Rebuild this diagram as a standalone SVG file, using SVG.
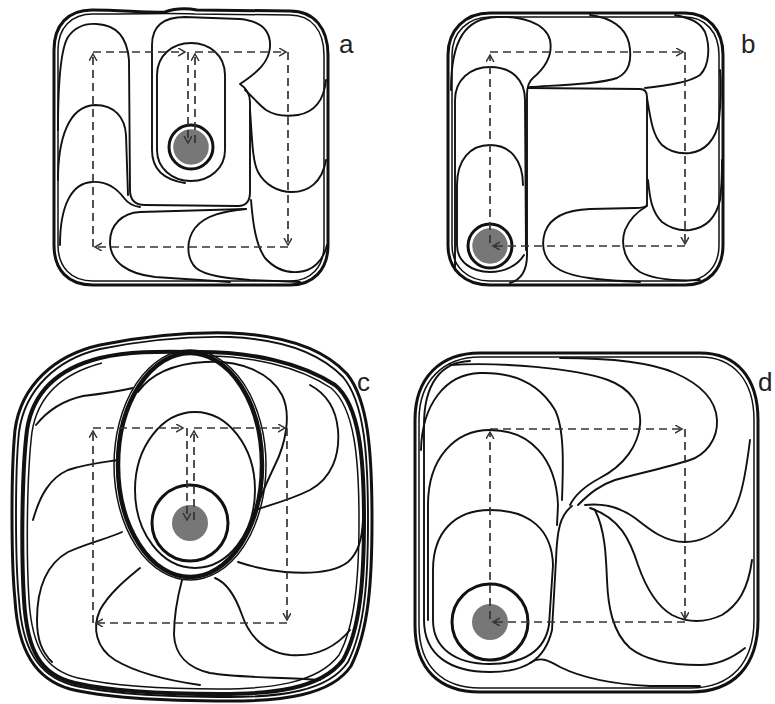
<svg xmlns="http://www.w3.org/2000/svg" width="775" height="704" viewBox="0 0 775 704">
<style>
.c{fill:none;stroke:#111;stroke-width:1.9;stroke-linecap:round;stroke-linejoin:round}
.b{fill:none;stroke:#111;stroke-width:3;stroke-linejoin:round}
.t{fill:none;stroke:#111;stroke-width:1.5}
.d{fill:none;stroke:#333;stroke-width:1.7;stroke-dasharray:8 5}
.src{fill:#777;stroke:#fff;stroke-width:1.5}
.ring{fill:#fff;stroke:#111;stroke-width:3}
.lbl{font-family:"Liberation Sans",Arial,sans-serif;font-size:26px;fill:#222}
</style>
<defs>
<marker id="ah" markerUnits="userSpaceOnUse" markerWidth="10" markerHeight="10" refX="7" refY="4" orient="auto">
<path d="M0,0 L7,4 L0,8" fill="none" stroke="#333" stroke-width="1.5"/>
</marker>
</defs>
<rect width="775" height="704" fill="#fff"/>

<!-- Panel a -->
<g id="panel-a">
<path class="b" d="M92,10 C120,10 150,13 165,12 C176,8 186,8 197,10 L290,11 C314,11 328,28 328,55 L328,245 C328,270 313,285 290,285 L93,285 C68,285 54,270 54,245 L54,50 C54,25 68,10 92,10 Z"/>
<path class="t" d="M93,14 C150,14 170,13 195,14 L290,15 C311,15 324,30 324,55 L324,245 C324,267 311,281 290,281 L93,281 C71,281 58,267 58,245 L58,50 C58,28 71,14 93,14 Z"/>
<path class="c" d="M185,183 C165,180 152,170 152,150 L152,45 C152,25 165,17 185,17 L240,19 C260,21 271,30 270,47 C269,62 258,72 240,84 C246,88 250,94 250,102 L250,192 C250,201 246,206 238,206 L145,205 C135,205 130,200 130,190 L129,60 C127,35 115,25 97,24 C85,23 75,27 68,37 C60,50 58,90 58,130"/>
<path class="c" d="M157,150 L157,75 C157,55 173,43 191,43 C209,43 225,55 225,75 L225,150 C225,168 210,181 191,181 C172,181 157,168 157,150 Z"/>
<path class="c" d="M58,180 C58,140 68,106 95,105 C115,105 125,118 126,135 L128,195"/>
<path class="c" d="M60,245 C60,205 72,183 92,182 C108,181 118,190 124,198 C127,202 132,206 140,207"/>
<path class="c" d="M246,209 L140,212 C122,213 110,225 110,242 C110,262 128,274 155,277 L230,282"/>
<path class="c" d="M246,209 C225,211 205,215 195,228 C186,240 186,258 196,268 C206,276 225,278 250,280 L300,282"/>
<path class="c" d="M245,90 C252,96 258,104 266,110 C274,115 285,117 298,115 C315,112 324,100 326,80"/>
<path class="c" d="M250,110 C252,135 252,160 258,172 C265,185 278,192 292,192 C308,192 322,183 326,160"/>
<path class="c" d="M251,200 C253,225 256,245 265,258 C274,268 285,273 298,272 C312,271 323,262 327,245"/>
<circle class="ring" cx="191" cy="147" r="22"/>
<circle class="src" cx="191" cy="147" r="18.5"/>
<g id="path-a">
<line class="d" x1="195" y1="143" x2="195" y2="54" marker-end="url(#ah)"/>
<line class="d" x1="195" y1="52" x2="286" y2="52" marker-end="url(#ah)"/>
<line class="d" x1="288" y1="52" x2="288" y2="245" marker-end="url(#ah)"/>
<line class="d" x1="288" y1="247" x2="95" y2="247" marker-end="url(#ah)"/>
<line class="d" x1="93" y1="247" x2="93" y2="54" marker-end="url(#ah)"/>
<line class="d" x1="93" y1="52" x2="185" y2="52" marker-end="url(#ah)"/>
<line class="d" x1="188" y1="52" x2="188" y2="143" marker-end="url(#ah)"/>
</g>
<text class="lbl" x="339" y="53">a</text>
</g>

<!-- Panel b -->
<g id="panel-b">
<path class="b" d="M490,13 L685,13 C708,13 723,30 723,55 L723,245 C723,270 708,285 685,285 L490,285 C465,285 448,270 448,245 L448,55 C448,30 465,13 490,13 Z"/>
<path class="t" d="M490,17 L685,17 C705,17 719,32 719,55 L719,245 C719,267 705,281 685,281 L490,281 C468,281 452,267 452,245 L452,55 C452,32 468,17 490,17 Z"/>
<path class="c" d="M523,185 C523,160 510,145 490,145 C470,145 457,160 457,185 L457,245 C457,262 472,272 490,272 C505,272 518,265 524,255"/>
<path class="c" d="M455,270 L455,100 C455,80 470,67 490,67 C512,67 525,80 525,100 L526,250"/>
<path class="c" d="M451,90 C451,40 465,18 497,17 C520,16 545,22 550,40 C553,55 545,68 533,78 C528,82 527,88 527,95 L527,255 C527,272 520,280 510,283"/>
<path class="c" d="M528,88 L640,89 C645,89 647,92 647,97 L647,205 C645,208 640,208 635,208 L590,209 C565,210 550,218 545,232 C540,248 545,262 560,270 C575,278 600,280 640,282"/>
<path class="c" d="M530,87 C560,85 600,84 617,78 C630,72 632,58 629,43 C625,27 612,18 590,15"/>
<path class="c" d="M645,88 C670,85 690,82 700,75 C710,65 710,45 705,32 C700,22 690,18 675,15"/>
<path class="c" d="M647,98 C650,115 652,135 662,145 C670,152 680,154 690,153 C705,151 716,140 719,120 C721,100 721,80 720,70"/>
<path class="c" d="M648,180 C650,200 652,212 662,222 C670,228 680,231 690,230 C705,228 716,218 720,200 C722,185 722,170 722,160"/>
<path class="c" d="M647,206 C640,210 630,218 625,230 C620,245 625,262 640,272 C655,280 680,281 700,280"/>
<circle class="ring" cx="490" cy="246" r="22"/>
<circle class="src" cx="490" cy="246" r="18.5"/>
<g id="path-b">
<line class="d" x1="490" y1="243" x2="490" y2="55" marker-end="url(#ah)"/>
<line class="d" x1="490" y1="52" x2="683" y2="52" marker-end="url(#ah)"/>
<line class="d" x1="685" y1="52" x2="685" y2="244" marker-end="url(#ah)"/>
<line class="d" x1="685" y1="246" x2="493" y2="246" marker-end="url(#ah)"/>
</g>
<text class="lbl" x="741" y="53">b</text>
</g>

<!-- Panel c -->
<g id="panel-c">
<path class="b" d="M100,345 C150,335 190,332 230,333 C280,335 322,347 347,374 C368,400 372,450 372,520 C372,580 369,630 351,666 C331,696 280,701 230,701 C170,701 110,699 70,689 C35,679 18,650 15,600 C11,560 11,470 15,430 C21,385 55,355 100,345 Z"/>
<path class="c" d="M100,349 C150,339 190,336 230,337 C278,339 318,351 343,377 C364,402 368,452 368,520 C368,580 365,628 348,662 C328,692 278,697 230,697 C170,697 112,695 72,685 C38,676 22,648 19,600 C15,560 15,470 19,432 C25,388 58,359 100,349 Z"/>
<path fill="none" stroke="#111" stroke-width="4" d="M200,352 C250,352 300,362 335,385 C360,405 364,460 364,520 C364,580 360,630 343,660 C320,690 270,694 220,694 C160,694 110,691 75,683 C40,675 27,650 24,600 C21,550 22,470 27,430 C33,390 60,368 100,358 C135,350 170,352 200,352"/>
<path class="t" d="M205,356 C250,356 298,366 331,388 C355,408 359,460 359,520 C359,578 355,626 339,655 C317,684 268,689 220,689 C162,689 113,686 78,678 C45,670 32,647 29,600 C26,550 27,472 32,432 C38,394 64,373 102,363"/>
<ellipse cx="190" cy="465" rx="72" ry="112" fill="none" stroke="#111" stroke-width="4.5"/>
<ellipse cx="190" cy="465" rx="76" ry="115" class="t"/>
<ellipse cx="195" cy="490" rx="60" ry="78" class="c"/>
<path class="c" d="M138,392 C150,375 170,364 205,362 C240,360 270,372 282,395 C292,415 285,445 275,465 C268,480 262,492 258,505"/>
<path class="c" d="M255,510 C270,505 290,500 310,490 C332,478 340,455 338,430 C336,408 325,393 310,385"/>
<path class="c" d="M238,562 C250,566 265,570 285,572 C310,574 335,572 348,562 C358,553 362,540 363,520"/>
<path class="c" d="M215,578 C225,582 235,595 242,615 C250,638 265,652 290,655 C315,657 335,648 350,630"/>
<path class="c" d="M182,580 C178,595 174,615 174,635 C175,655 188,668 210,673 C240,678 280,677 320,680"/>
<path class="c" d="M140,568 C128,578 110,592 100,610 C92,628 96,648 115,660 C135,672 165,680 200,685"/>
<path class="c" d="M122,532 C110,538 90,542 68,552 C45,565 37,590 37,620 C37,640 42,652 52,662"/>
<path class="c" d="M118,460 C105,462 85,464 68,470 C50,478 40,495 33,520"/>
<path class="c" d="M133,388 C120,391 100,394 83,396 C65,400 48,410 36,425"/>
<circle class="ring" cx="190" cy="523" r="38"/>
<circle cx="190" cy="523" r="18" fill="#777"/>
<g id="path-c">
<line class="d" x1="194" y1="520" x2="194" y2="431" marker-end="url(#ah)"/>
<line class="d" x1="194" y1="428" x2="285" y2="428" marker-end="url(#ah)"/>
<line class="d" x1="287" y1="428" x2="287" y2="620" marker-end="url(#ah)"/>
<line class="d" x1="287" y1="623" x2="96" y2="623" marker-end="url(#ah)"/>
<line class="d" x1="93" y1="623" x2="93" y2="431" marker-end="url(#ah)"/>
<line class="d" x1="93" y1="428" x2="183" y2="428" marker-end="url(#ah)"/>
<line class="d" x1="187" y1="428" x2="187" y2="520" marker-end="url(#ah)"/>
</g>
<text class="lbl" x="357" y="391">c</text>
</g>

<!-- Panel d -->
<g id="panel-d">
<path class="b" d="M480,353 L700,353 C737,353 758,378 758,420 L758,620 C758,665 735,692 690,692 L480,692 C440,692 415,670 415,625 L415,420 C415,378 440,353 480,353 Z"/>
<path class="t" d="M480,357 L700,357 C734,357 754,381 754,420 L754,620 C754,662 732,688 690,688 L480,688 C443,688 419,667 419,625 L419,420 C419,381 443,357 480,357 Z"/>
<path class="c" d="M470,361 C440,362 424,385 424,425 L424,620 C424,655 450,672 490,672 C525,672 545,660 552,630 L556,560 C557,530 560,515 572,506"/>
<path class="c" d="M553,565 C552,530 530,510 490,510 C455,510 433,532 433,570 L433,620 C433,648 455,664 490,664 C525,664 545,650 549,625 Z"/>
<path class="c" d="M428,620 L428,505 C428,458 455,430 490,430 C530,430 556,458 558,505 L557,525"/>
<path class="c" d="M421,450 C422,405 445,374 480,373 C515,372 540,385 555,410 C565,430 563,470 562,500"/>
<path class="c" d="M450,365 C500,362 575,368 608,380 C630,388 642,405 640,425 C638,445 625,465 600,478 C585,486 575,495 570,505"/>
<path class="c" d="M560,358 C610,358 650,362 675,373 C700,384 716,400 717,420 C718,440 705,455 690,460 C665,468 640,473 615,480 C600,485 590,493 578,505"/>
<path class="c" d="M750,440 C745,480 740,505 728,520 C715,535 700,542 685,542 C665,542 650,530 635,518 C620,507 605,503 585,505"/>
<path class="c" d="M752,560 C748,590 738,605 722,615 C705,623 688,623 672,615 C655,605 645,585 638,565 C630,540 620,518 590,508"/>
<path class="c" d="M745,648 C730,660 715,665 700,665 C670,665 645,660 630,648 C612,632 608,605 607,580 C606,555 605,530 595,510"/>
<path class="c" d="M530,663 C540,656 548,660 560,667 C580,677 610,684 650,686 L700,686"/>
<circle class="ring" cx="490" cy="622" r="38"/>
<circle cx="490" cy="622" r="18" fill="#777"/>
<g id="path-d">
<line class="d" x1="490" y1="619" x2="490" y2="432" marker-end="url(#ah)"/>
<line class="d" x1="490" y1="429" x2="682" y2="429" marker-end="url(#ah)"/>
<line class="d" x1="685" y1="429" x2="685" y2="619" marker-end="url(#ah)"/>
<line class="d" x1="685" y1="622" x2="493" y2="622" marker-end="url(#ah)"/>
</g>
<text class="lbl" x="758" y="391">d</text>
</g>
</svg>
